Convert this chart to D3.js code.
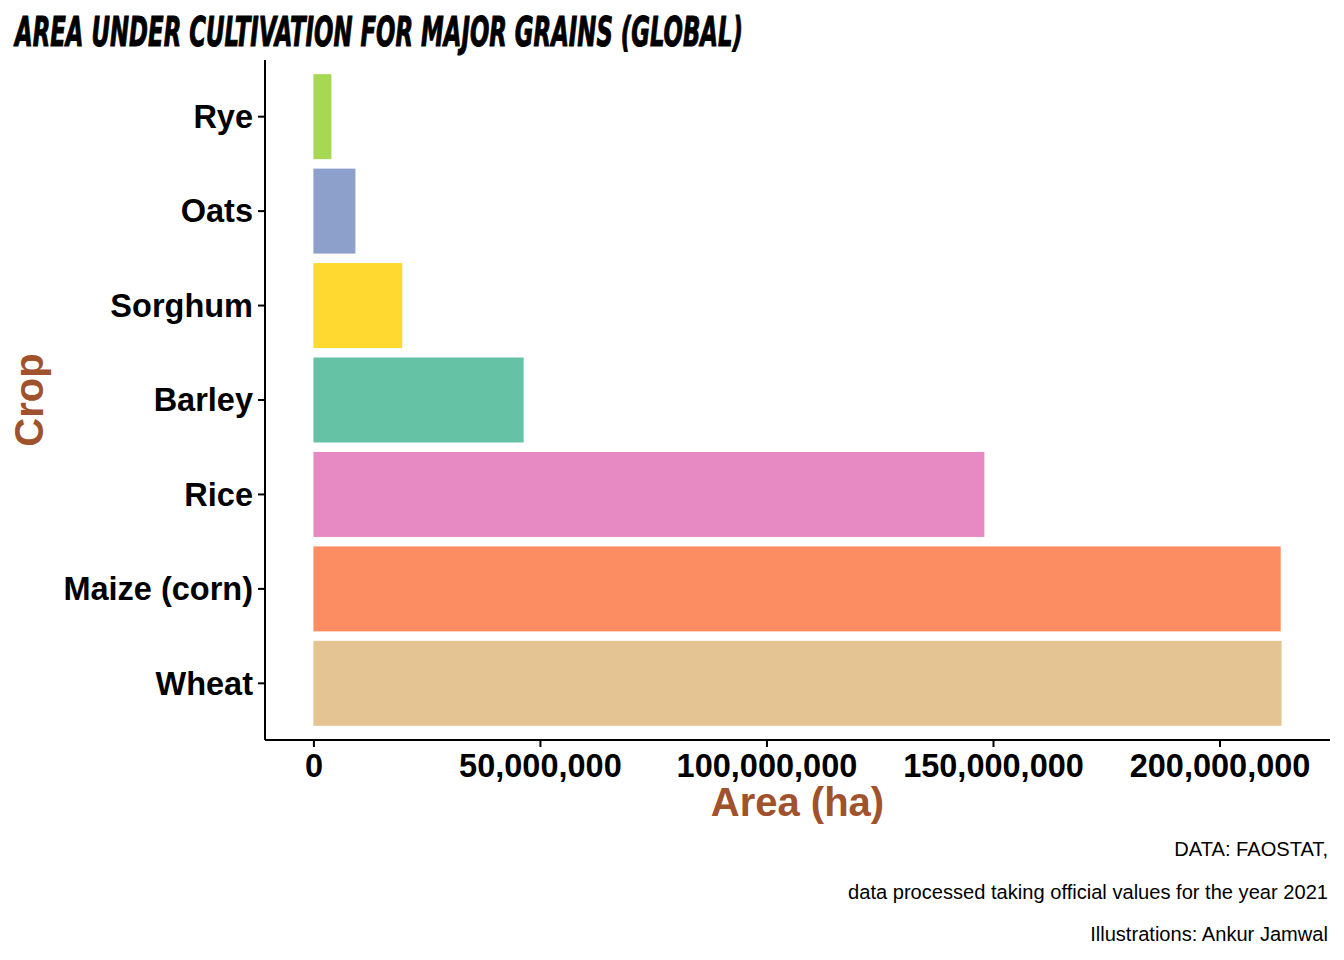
<!DOCTYPE html>
<html>
<head>
<meta charset="utf-8">
<script src="https://cdn.jsdelivr.net/npm/d3@7"></script>
<style>
  html, body { margin: 0; padding: 0; background: #fff; }
  svg { display: block; }
</style>
</head>
<body>
<svg id="chart" width="1344" height="960"></svg>
<script>
// area colhida por cultura (ha)
const crops = ["Rye", "Oats", "Sorghum", "Barley", "Rice", "Maize (corn)", "Wheat"];
const areas = [3.97e6, 9.27e6, 19.6e6, 46.4e6, 148.1e6, 213.5e6, 213.7e6];
const cropColors = ["#A6D854", "#8DA0CB", "#FFD92F", "#66C2A5", "#E78AC3", "#FC8D62", "#E5C494"];
const xTicks = [0, 50e6, 100e6, 150e6, 200e6];
const captionLines = [
  "DATA: FAOSTAT,",
  "data processed taking official values for the year 2021",
  "Illustrations: Ankur Jamwal",
];

const rows = crops.map((c, i) => ({ crop: c, area: areas[i], color: cropColors[i] }));

const PANEL = { left: 265, right: 1330, top: 60, bottom: 740 };
const FONT = "'Liberation Sans', Arial, Helvetica, sans-serif";
const BROWN = "#A0522D";

const svg = d3.select("#chart");

// expansao de 5% igual ao ggplot
const maxA = d3.max(areas);
const pad = maxA * 0.05;
const x = d3.scaleLinear().domain([-pad, maxA + pad]).range([PANEL.left, PANEL.right]);
const y = d3.scaleBand().domain(crops).range([PANEL.top, PANEL.bottom]).paddingInner(0.1).paddingOuter(0.15);

svg.append("g")
  .selectAll("rect")
  .data(rows)
  .join("rect")
  .attr("x", x(0))
  .attr("y", (d) => y(d.crop))
  .attr("width", (d) => x(d.area) - x(0))
  .attr("height", y.bandwidth())
  .attr("fill", (d) => d.color);

// eixo x
const xAxisG = svg.append("g")
  .attr("transform", `translate(0,${PANEL.bottom})`)
  .call(d3.axisBottom(x).tickValues(xTicks).tickFormat(d3.format(",")).tickSize(7).tickSizeOuter(0).tickPadding(7));
xAxisG.select(".domain").attr("d", `M${PANEL.left},0H${PANEL.right}`);

// eixo y
const yAxisG = svg.append("g")
  .attr("transform", `translate(${PANEL.left},0)`)
  .call(d3.axisLeft(y).tickSize(7).tickSizeOuter(0).tickPadding(5));
yAxisG.select(".domain").attr("d", `M0,${PANEL.top}V${PANEL.bottom}`);

[xAxisG, yAxisG].forEach((g) => {
  g.selectAll(".domain, .tick line").attr("stroke", "#000").attr("stroke-width", 2);
  g.selectAll("text")
    .attr("fill", "#000")
    .attr("font-family", FONT)
    .attr("font-weight", "bold")
    .attr("font-size", 32.5);
});
yAxisG.selectAll("text").attr("dy", "0.35em");

// titulos dos eixos
svg.append("text")
  .attr("x", (PANEL.left + PANEL.right) / 2)
  .attr("y", 816)
  .attr("text-anchor", "middle")
  .attr("fill", BROWN)
  .attr("font-family", FONT)
  .attr("font-weight", "bold")
  .attr("font-size", 40)
  .text("Area (ha)");

svg.append("text")
  .attr("transform", `translate(43,${(PANEL.top + PANEL.bottom) / 2}) rotate(-90)`)
  .attr("text-anchor", "middle")
  .attr("fill", BROWN)
  .attr("font-family", FONT)
  .attr("font-weight", "bold")
  .attr("font-size", 40)
  .text("Crop");

// titulo principal
svg.append("text")
  .attr("x", 15)
  .attr("y", 46)
  .attr("fill", "#000")
  .attr("stroke", "#000")
  .attr("stroke-width", 1)
  .attr("font-family", "'Liberation Sans Narrow', 'DejaVu Sans Condensed', sans-serif")
  .attr("font-weight", "bold")
  .attr("font-style", "italic")
  .attr("font-size", 40)
  .attr("textLength", 728)
  .attr("lengthAdjust", "spacingAndGlyphs")
  .text("AREA UNDER CULTIVATION FOR MAJOR GRAINS (GLOBAL)");

// legenda de fonte
svg.append("g")
  .selectAll("text")
  .data(captionLines)
  .join("text")
  .attr("x", 1328)
  .attr("y", (_d, i) => 856 + i * 42.5)
  .attr("text-anchor", "end")
  .attr("fill", "#000")
  .attr("font-family", FONT)
  .attr("font-size", 20.1)
  .text((d) => d);
</script>
</body>
</html>
